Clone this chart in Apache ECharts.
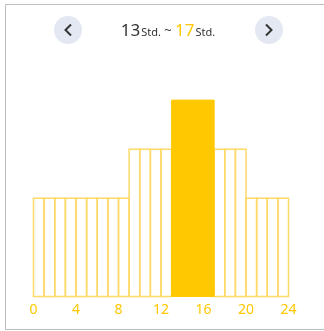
<!DOCTYPE html>
<html>
<head>
<meta charset="utf-8">
<script src="https://cdn.jsdelivr.net/npm/echarts@6/dist/echarts.min.js"></script>
<style>
  html, body { margin: 0; padding: 0; background: #fff; }
  #chart { width: 324px; height: 331px; }
</style>
</head>
<body>
<div id="chart"></div>
<script>
// Hourly load levels (one value per hour, 0..23)
const hours = [0,1,2,3,4,5,6,7,8,9,10,11,12,13,14,15,16,17,18,19,20,21,22,23];
const levels = [2,2,2,2,2,2,2,2,2,3,3,3,3,4,4,4,4,3,3,3,2,2,2,2];
// Selected time window
const rangeStart = 13;
const rangeEnd = 17;
// Axis tick labels
const tickLabels = [0,4,8,12,16,20,24];

const YELLOW = '#FFC800';
const OUTLINE = '#FFD966';

const chart = echarts.init(document.getElementById('chart'), null, { renderer: 'canvas' });

const data = hours.map((h, i) => [h, h + 1, levels[i], (h >= rangeStart && h < rangeEnd) ? 1 : 0]);

chart.setOption({
  animation: false,
  grid: { left: 33.5, right: 35.5, top: 52, bottom: 34.5 },
  xAxis: {
    type: 'value', min: 0, max: 24, interval: 4,
    axisLine: { show: false }, axisTick: { show: false }, splitLine: { show: false },
    axisLabel: {
      color: YELLOW, fontFamily: 'Noto Sans', fontSize: 14, margin: 7,
      formatter: v => tickLabels.includes(v) ? String(v) : ''
    }
  },
  yAxis: {
    type: 'value', min: 0, max: 4.98, show: false
  },
  series: [{
    type: 'custom',
    data: data,
    renderItem: function (params, api) {
      const p0 = api.coord([api.value(0), 0]);
      const p1 = api.coord([api.value(1), api.value(2)]);
      const sel = api.value(3) === 1;
      return {
        type: 'rect',
        shape: { x: p0[0], y: p1[1], width: p1[0] - p0[0], height: p0[1] - p1[1] },
        style: sel
          ? { fill: YELLOW, stroke: YELLOW, lineWidth: 1 }
          : { fill: 'rgba(255,255,255,0)', stroke: OUTLINE, lineWidth: 1.5 },
        z2: sel ? 10 : 1
      };
    },
    encode: { x: [0, 1], y: 2 }
  }],
  graphic: [
    {
      type: 'rect', silent: true,
      shape: { x: 5.5, y: 4.5, width: 340, height: 325 },
      style: { fill: 'none', stroke: '#BDBDBD', lineWidth: 1 }
    },
    { type: 'circle', shape: { cx: 68, cy: 30, r: 14 }, style: { fill: '#E3E8F3' } },
    { type: 'circle', shape: { cx: 269, cy: 30, r: 14 }, style: { fill: '#E3E8F3' } },
    {
      type: 'polyline',
      shape: { points: [[71, 24.5], [65.5, 30], [71, 35.5]] },
      style: { stroke: '#333', lineWidth: 2, fill: 'none' }
    },
    {
      type: 'polyline',
      shape: { points: [[266, 24.5], [271.5, 30], [266, 35.5]] },
      style: { stroke: '#333', lineWidth: 2, fill: 'none' }
    },
    {
      type: 'text', x: 168, y: 31,
      style: {
        text: '{n|' + rangeStart + '}{u|Std.} {t|~} {h|' + rangeEnd + '}{u|Std.}',
        align: 'center', verticalAlign: 'middle',
        rich: {
          n: { fontSize: 17, fontFamily: 'Noto Sans', fill: '#333' },
          h: { fontSize: 17, fontFamily: 'Noto Sans', fill: YELLOW },
          u: { fontSize: 11, fontFamily: 'Noto Sans', fill: '#333', padding: [4, 0, 0, 1] },
          t: { fontSize: 13, fontFamily: 'Noto Sans', fill: '#333' }
        }
      }
    }
  ]
});
</script>
</body>
</html>
